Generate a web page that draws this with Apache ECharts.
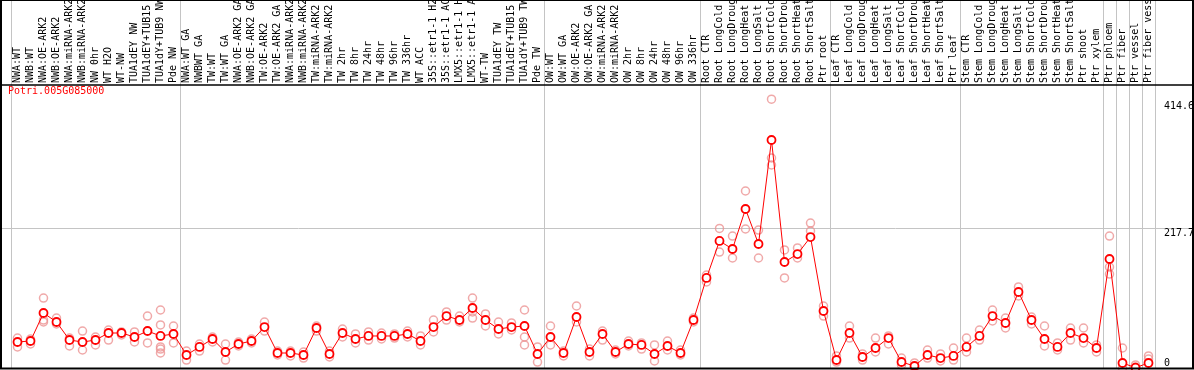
<!DOCTYPE html>
<html>
<head>
<meta charset="utf-8">
<script src="https://cdn.jsdelivr.net/npm/echarts@6/dist/echarts.min.js"></script>
<style>
html,body{margin:0;padding:0;background:#fff;}
#chart{width:1194px;height:370px;}
</style>
</head>
<body>
<div id="chart"></div>
<script>
const chartTitle = 'Potri.005G085000';

const categories = [
  'NWA:WT','NWB:WT','NWA:OE-ARK2','NWB:OE-ARK2','NWA:miRNA-ARK2','NWB:miRNA-ARK2','NW 0hr','WT H2O','WT-NW','TUA1dEY NW','TUA1dEY+TUB15 NW','TUA1dY+TUB9 NW','Pde NW',
  'NWA:WT GA','NWBWT GA','TW:WT','TW:WT GA','NWA:OE-ARK2 GA','NWB:OE-ARK2 GA','TW:OE-ARK2','TW:OE-ARK2 GA','NWA:miRNA-ARK2 GA','NWB:miRNA-ARK2 GA','TW:miRNA-ARK2','TW:miRNA-ARK2 GA',
  'TW 2hr','TW 8hr','TW 24hr','TW 48hr','TW 96hr','TW 336hr','WT ACC','35S::etr1-1 H2O','35S::etr1-1 ACC','LMX5::etr1-1 H2O','LMX5::etr1-1 ACC','WT-TW','TUA1dEY TW','TUA1dEY+TUB15 TW','TUA1dY+TUB9 TW','Pde TW',
  'OW:WT','OW:WT GA','OW:OE-ARK2','OW:OE-ARK2 GA','OW:miRNA-ARK2','OW:miRNA-ARK2 GA','OW 2hr','OW 8hr','OW 24hr','OW 48hr','OW 96hr','OW 336hr',
  'Root CTR','Root LongCold','Root LongDrought','Root LongHeat','Root LongSalt','Root ShortCold','Root ShortDrought','Root ShortHeat','Root ShortSalt','Ptr root',
  'Leaf CTR','Leaf LongCold','Leaf LongDrought','Leaf LongHeat','Leaf LongSalt','Leaf ShortCold','Leaf ShortDrought','Leaf ShortHeat','Leaf ShortSalt','Ptr leaf',
  'Stem CTR','Stem LongCold','Stem LongDrought','Stem LongHeat','Stem LongSalt','Stem ShortCold','Stem ShortDrought','Stem ShortHeat','Stem ShortSalt','Ptr shoot','Ptr xylem',
  'Ptr phloem','Ptr fiber','Ptr vessel','Ptr fiber vessel'
];

const means = [
  40.4, 42.0, 85.5, 71.5, 43.5, 40.4, 43.5, 54.4, 54.4, 48.2, 57.5, 49.8, 52.9,
  20.2, 32.7, 45.1, 24.9, 37.3, 42.0, 63.7, 23.3, 23.3, 20.2, 62.2, 21.8,
  54.4, 45.1, 49.8, 49.8, 49.8, 52.9, 42.0, 63.7, 80.8, 74.6, 93.3, 74.6, 60.6, 63.7, 65.3, 21.8,
  48.2, 23.3, 79.3, 24.9, 52.9, 24.9, 37.3, 35.8, 21.8, 34.2, 23.3, 74.6,
  140.0, 197.5, 185.0, 247.2, 192.8, 354.5, 164.8, 177.2, 203.6, 88.6,
  12.4, 54.4, 17.1, 31.1, 46.6, 9.3, 3.1, 20.2, 15.5, 18.7,
  32.7, 49.8, 80.8, 70.0, 118.2, 74.6, 45.1, 32.7, 54.4, 46.6, 31.1,
  169.5, 7.8, 0.5, 7.8
];

const replicates = [
  [46.6, 32.7], [45.1, 37.3], [108.8, 74.6, 71.5], [77.7, 68.4], [46.6, 34.2], [57.5, 28.0], [48.2, 35.8],
  [59.1, 43.5], [56.0, 51.3], [56.0, 40.4], [80.8, 38.9], [90.2, 66.9, 32.7, 29.5, 23.3], [65.3, 38.9],
  [26.4, 12.4], [37.3, 26.4], [48.2, 40.4], [37.3, 12.4], [40.4, 34.2], [45.1, 38.9], [71.5, 57.5],
  [26.4, 20.2], [26.4, 18.7], [24.9, 15.5], [65.3, 57.5], [26.4, 17.1],
  [60.6, 48.2], [52.9, 38.9], [56.0, 43.5], [54.4, 45.1], [52.9, 46.6], [57.5, 48.2], [49.8, 35.8],
  [74.6, 56.0], [87.1, 74.6], [80.8, 71.5], [108.8, 87.1, 77.7], [84.0, 65.3], [71.5, 52.9], [70.0, 59.1],
  [90.2, 48.2, 35.8], [32.7, 9.3],
  [65.3, 35.8], [26.4, 18.7], [96.4, 71.5], [29.5, 18.7], [57.5, 43.5], [28.0, 21.8], [42.0, 34.2],
  [38.9, 29.5], [35.8, 10.9], [42.0, 28.0], [28.0, 20.2], [77.7, 71.5],
  [144.6, 133.7], [217.0, 180.3], [205.2, 171.0], [275.2, 216.1], [214.5, 171.0], [418.0, 326.5, 315.6],
  [183.5, 140.0], [186.6, 171.0], [225.4, 213.0], [96.4, 80.8],
  [18.7, 9.3], [65.3, 46.6], [21.8, 12.4], [46.6, 24.9], [49.8, 37.3], [15.5, 4.7], [7.8, 0.0],
  [28.0, 15.5], [21.8, 10.9], [31.1, 12.4],
  [46.6, 24.9], [59.1, 43.5], [90.2, 73.1], [77.7, 62.2], [126.0, 112.0], [79.3, 68.4], [65.3, 34.2],
  [38.9, 28.0], [62.2, 43.5], [62.2, 38.9], [35.8, 24.9],
  [205.2, 157.0, 146.1], [31.1, 0.0], [4.7, 1.5], [18.7, 14.0]
];

// category indices at which a group separator line starts
const separatorIndices = [0, 13, 41, 53, 63, 73, 84, 85, 86, 87];
const yUpperLabels = [217.7, 414.6];
const yLowerLabels = [0];
const yGridValue = 217.7;
const yMax = 440;

const mono = 'DejaVu Sans Mono';
const sepSet = new Set(separatorIndices);
const sepLine = { show: true, interval: (i) => sepSet.has(i), lineStyle: { color: '#c4c4c4', width: 1 } };

const repData = [];
replicates.forEach((arr, i) => arr.forEach(v => repData.push([i, v])));

const chart = echarts.init(document.getElementById('chart'), null, { renderer: 'canvas' });

const yLabelBase = { margin: 9, align: 'left', fontFamily: mono, fontSize: 10, color: '#000', formatter: v => String(v) };

chart.setOption({
  animation: false,
  title: {
    text: chartTitle, left: 8, top: 86, padding: 0,
    textStyle: { color: '#ff0000', fontSize: 10, fontFamily: mono, fontWeight: 'normal' }
  },
  grid: [
    { left: 11, right: 39, top: 0, height: 85, outerBoundsMode: 'none', containLabel: false },
    { left: 11, right: 39, top: 85, bottom: 2, outerBoundsMode: 'none', containLabel: false }
  ],
  xAxis: [
    {
      type: 'category', gridIndex: 0, data: categories, position: 'bottom',
      axisLine: { show: false }, axisTick: { show: false }, splitLine: sepLine,
      axisLabel: { inside: true, rotate: 90, margin: 2, interval: 0, fontFamily: mono, fontSize: 10, color: '#000' }
    },
    {
      type: 'category', gridIndex: 1, data: categories, position: 'bottom',
      axisLine: { show: false }, axisTick: { show: false }, axisLabel: { show: false }, splitLine: sepLine
    }
  ],
  yAxis: [
    { type: 'value', gridIndex: 0, show: false },
    {
      type: 'value', gridIndex: 1, min: 0, max: yMax, position: 'right',
      axisLine: { show: false }, axisTick: { show: false }, splitLine: { show: false },
      axisLabel: Object.assign({ customValues: yUpperLabels, verticalAlign: 'top' }, yLabelBase)
    },
    {
      type: 'value', gridIndex: 1, min: 0, max: yMax, position: 'right',
      axisLine: { show: false }, axisTick: { show: false }, splitLine: { show: false },
      axisLabel: Object.assign({ customValues: yLowerLabels, verticalAlign: 'bottom' }, yLabelBase)
    }
  ],
  series: [
    {
      type: 'scatter', xAxisIndex: 1, yAxisIndex: 1, data: repData, z: 1, silent: true,
      symbol: 'circle', symbolSize: 8,
      itemStyle: { color: 'rgba(255,255,255,0)', borderColor: '#ec9494', borderWidth: 1.5 }
    },
    {
      type: 'line', xAxisIndex: 1, yAxisIndex: 1, data: means, z: 3, silent: true,
      symbol: 'circle', symbolSize: 8, showAllSymbol: true,
      lineStyle: { color: '#ff0000', width: 1 },
      itemStyle: { color: '#ffffff', borderColor: '#ff0000', borderWidth: 1.8 }
    }
  ]
});

const yG = Math.round(chart.convertToPixel({ yAxisIndex: 1 }, yGridValue)) + 0.5;
const yTop = Math.round(chart.convertToPixel({ yAxisIndex: 1 }, yMax));
const yBottom = chart.convertToPixel({ yAxisIndex: 1 }, 0);
const W = chart.getWidth();

chart.setOption({
  graphic: [
    { type: 'line', silent: true, z: 0, shape: { x1: 0, y1: yG, x2: W, y2: yG }, style: { stroke: '#c4c4c4', lineWidth: 1 } },
    { type: 'line', silent: true, z: 100, shape: { x1: 0, y1: yTop, x2: W, y2: yTop }, style: { stroke: '#000', lineWidth: 1.5 } },
    { type: 'rect', silent: true, z: 100, shape: { x: 1, y: 0, width: W - 2, height: yBottom + 0.5 }, style: { fill: null, stroke: '#000', lineWidth: 2 } }
  ]
});
</script>
</body>
</html>
